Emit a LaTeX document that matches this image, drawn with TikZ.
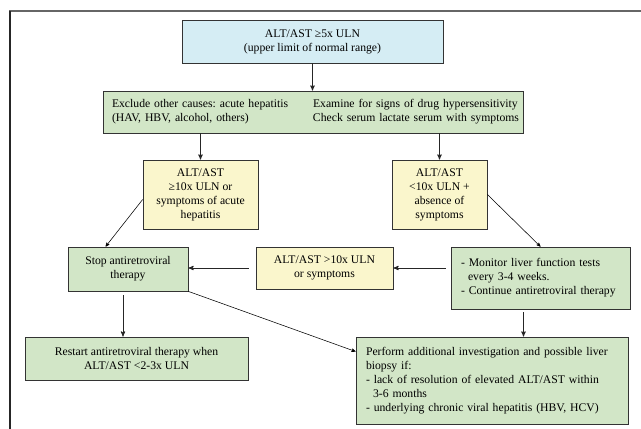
\documentclass[tikz,border=0pt]{standalone}
\usepackage{fontspec}
\setmainfont{Liberation Serif}
\usepackage{xcolor}
\usetikzlibrary{arrows,positioning}
\tikzset{>=stealth'}
\definecolor{bluebox}{HTML}{D5EDF4}
\definecolor{greenbox}{HTML}{D2E6C7}
\definecolor{yellowbox}{HTML}{FAF6CC}
\frenchspacing

\begin{document}
\begin{tikzpicture}[x=1pt,y=-1pt,
                    box/.style={draw=black!80, line width=0.8pt, align=center, inner sep=0pt,
                                font=\fontsize{11.7}{14}\selectfont},
                    bluenode/.style={box, fill=bluebox},
                    greennode/.style={box, fill=greenbox},
                    yellownode/.style={box, fill=yellowbox},
                    arr/.style={->, line width=0.9pt, black!85},
                    thinarr/.style={->, line width=0.55pt, black},
                    topframe/.style={line width=2pt, black!60},
                    leftframe/.style={line width=1.4pt, black!85},
                   ]

\useasboundingbox (0,0) rectangle (641,429);

\draw[topframe] (9,11) -- (641,11);
\draw[leftframe] (10,11) -- (10,429);

% first two levels
\node[bluenode, minimum width=261, minimum height=43] (uln) at (312.5,41.5)
  {ALT/AST ≥5x ULN\\(upper limit of normal range)};
\node[greennode, minimum width=420, minimum height=42, text width=402pt, inner xsep=9pt, align=left] (causes) at (313,112)
  {\begin{tabular}{@{}p{201pt}@{}l@{}}
   Exclude other causes: acute hepatitis & Examine for signs of drug hypersensitivity\\
   (HAV, HBV, alcohol, others) & Check serum lactate serum with symptoms
   \end{tabular}};

% yellow decisions
\node[yellownode, minimum width=115, minimum height=69] (high) at (200.5,194.5)
  {ALT/AST\\≥10x ULN or\\symptoms of acute\\hepatitis};
\node[yellownode, minimum width=95, minimum height=69] (low) at (439.5,194.5)
  {ALT/AST\\<10x ULN +\\absence of\\symptoms};

% third row
\node[greennode, minimum width=120, minimum height=44] (stop) at (128,269)
  {Stop antiretroviral\\therapy};
\node[yellownode, minimum width=137, minimum height=42] (again) at (324.5,268)
  {ALT/AST >10x ULN\\or symptoms};
\node[greennode, minimum width=179, minimum height=62, text width=159pt, inner xsep=10pt, align=left] (monitor) at (540.5,278)
  {- Monitor liver function tests\\\hspace*{0.6em}every 3-4 weeks.\\- Continue antiretroviral therapy};

% bottom row
\node[greennode, minimum width=223, minimum height=43] (restart) at (136.5,358.5)
  {Restart antiretroviral therapy when\\ALT/AST <2-3x ULN};
\node[greennode, minimum width=272, minimum height=87, text width=252pt, inner xsep=10pt, align=left] (biopsy) at (492,380.5)
  {Perform additional investigation and possible liver\\biopsy if:\\- lack of resolution of elevated ALT/AST within\\\hspace*{0.6em}3-6 months\\- underlying chronic viral hepatitis (HBV, HCV)};

% connectors
\draw[arr] (uln.south) -- (uln.south |- causes.north);
\draw[arr] (high |- causes.south) -- (high.north);
\draw[arr] (low |- causes.south) -- (low.north);
\draw[thinarr] (high.185) -- (stop.135);
\draw[thinarr] (low.east) -- (monitor.north);
\draw[arr, shorten <=5pt] (monitor.west |- again.east) -- (again.east);
\draw[arr, shorten <=7pt] (again.west) -- (again.west -| stop.east);
\draw[arr, shorten <=4pt] ([xshift=-5pt]stop.south) -- ([xshift=-5pt]stop.south |- restart.north);
\draw[thinarr] (stop.south east) -- (biopsy.168);
\draw[arr, shorten <=3pt] ([xshift=-17pt]monitor.south) -- ([xshift=-17pt]monitor.south |- biopsy.north);

\end{tikzpicture}
\end{document}
